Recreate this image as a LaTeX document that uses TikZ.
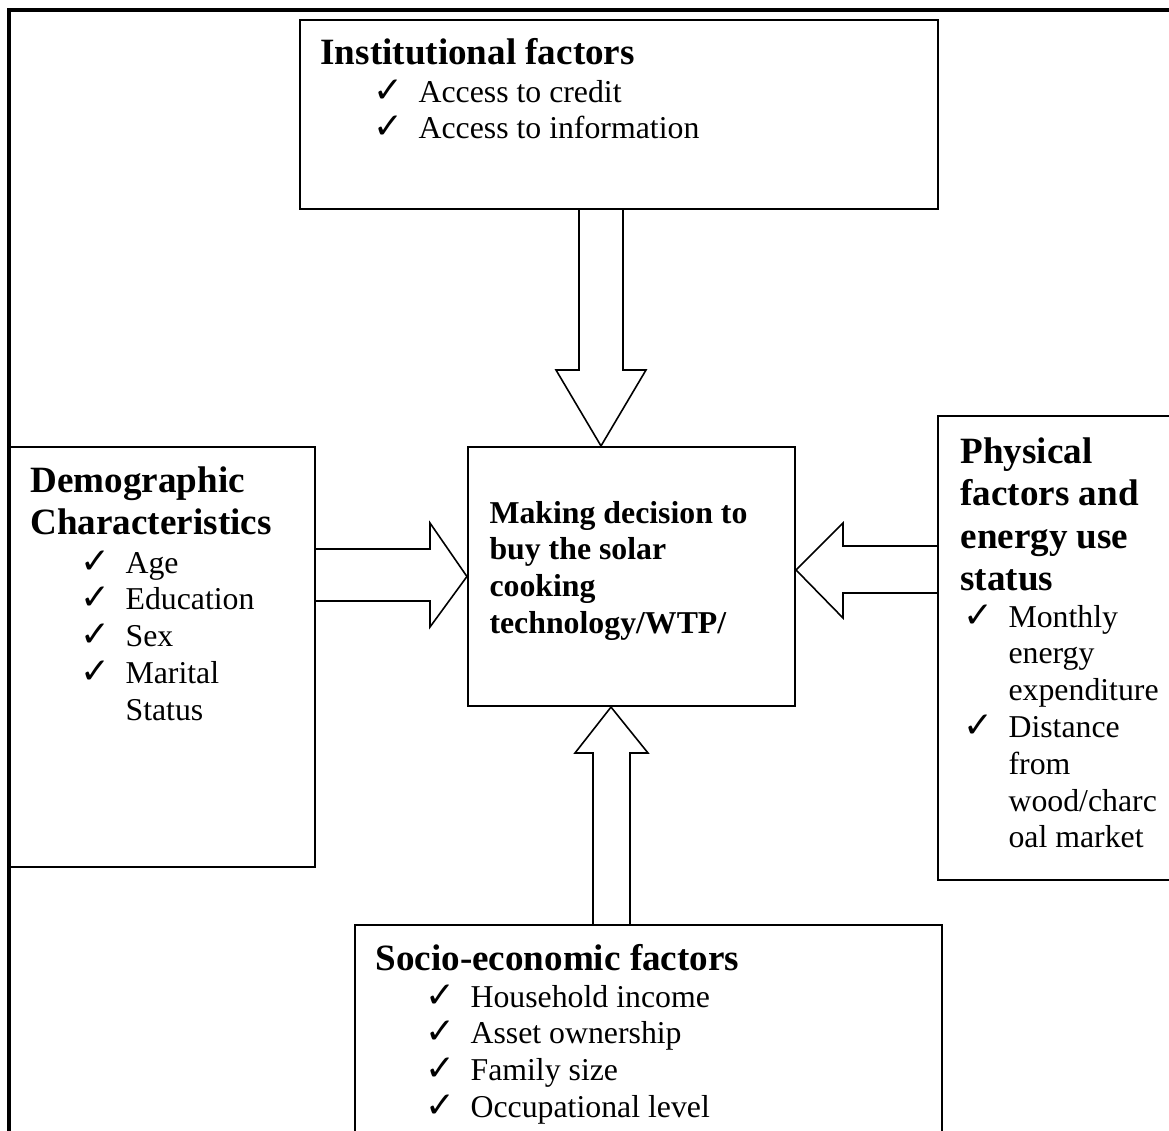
\documentclass[tikz,border=0pt]{standalone}
\usepackage{fontspec}
\setmainfont{Liberation Serif}
\newfontfamily\tickfont{DejaVu Sans}
\usetikzlibrary{fit}

% one ticked line, later lines hang under the text
\newcommand\chk[1]{\par\hangindent=17pt\hangafter=1\noindent\makebox[17pt][l]{\tickfont\fontsize{13.5}{13}\selectfont ✓}#1}

\tikzset{
  box/.style={draw, line width=0.8pt, inner sep=0pt},
  ttl/.style={anchor=base west, inner sep=0pt, font=\fontsize{14}{16.1}\selectfont\bfseries},
  lst/.style={anchor=base west, inner sep=0pt, font=\fontsize{12}{13.9}\selectfont},
  blockarrow/.style={draw, line width=0.6pt, line join=miter},
}

\begin{document}
\begin{tikzpicture}[x=0.3774pt, y=-0.3774pt]
\useasboundingbox (0,0) rectangle (1169,1131);
\clip (0,0) rectangle (1169,1131);
% frame
\draw[line width=1.2pt] (1169,10) -- (9,10) -- (9,1131);

% boxes
\node[box, fit={(300,20) (938,209)}] (inst) {};
\node[box, fit={(10,447) (315,867)}] (demo) {};
\node[box, fit={(468,447) (795,706)}] (mid) {};
\node[box, fit={(938,416) (1190,880)}] (phys) {};
\node[box, fit={(355,925) (942,1150)}] (socio) {};

% texts
\node[ttl] (instT) at (320,65) {Institutional factors};
\node[lst] (instL) at (373,102) {\parbox[t]{8cm}{\chk{Access to credit}\chk{Access to information}}};

\node[lst, font=\fontsize{12}{13.9}\selectfont\bfseries] (midT) at (489,523)
  {\parbox[t]{5cm}{Making decision to\\buy the solar\\cooking\\technology/WTP/}};

\node[ttl] (demoT) at (30,492) {\parbox[t]{6cm}{Demographic\\Characteristics}};
\node[lst] (demoL) at (80,573) {\parbox[t]{6cm}{\chk{Age}\chk{Education}\chk{Sex}\chk{Marital\\Status}}};

\node[ttl] (physT) at (960,463) {\parbox[t]{6cm}{Physical\\factors and\\energy use\\status}};
\node[lst] (physL) at (963,627) {\parbox[t]{6cm}{\chk{Monthly\\energy\\expenditure}\chk{Distance\\from\\wood/charc\\oal market}}};

\node[ttl] (socioT) at (375,970) {Socio-economic factors};
\node[lst] (socioL) at (425,1007) {\parbox[t]{8cm}{\chk{Household income}\chk{Asset ownership}\chk{Family size}\chk{Occupational level}}};

% block arrows
\draw[blockarrow] (579,0 |- inst.south) -- (579,370) -- (556,370) -- (601,0 |- mid.north)
  -- (646,370) -- (623,370) -- (623,0 |- inst.south);
\draw[blockarrow] (demo.east |- 0,549) -- (430,549) -- (430,523) -- (mid.west)
  -- (430,627) -- (430,601) -- (demo.east |- 0,601);
\draw[blockarrow] (phys.west |- 0,546) -- (843,546) -- (843,523) -- (mid.east |- 0,570)
  -- (843,618) -- (843,593) -- (phys.west |- 0,593);
\draw[blockarrow] (593,0 |- socio.north) -- (593,753) -- (575,753) -- (611,0 |- mid.south)
  -- (648,753) -- (630,753) -- (630,0 |- socio.north);
\end{tikzpicture}
\end{document}
